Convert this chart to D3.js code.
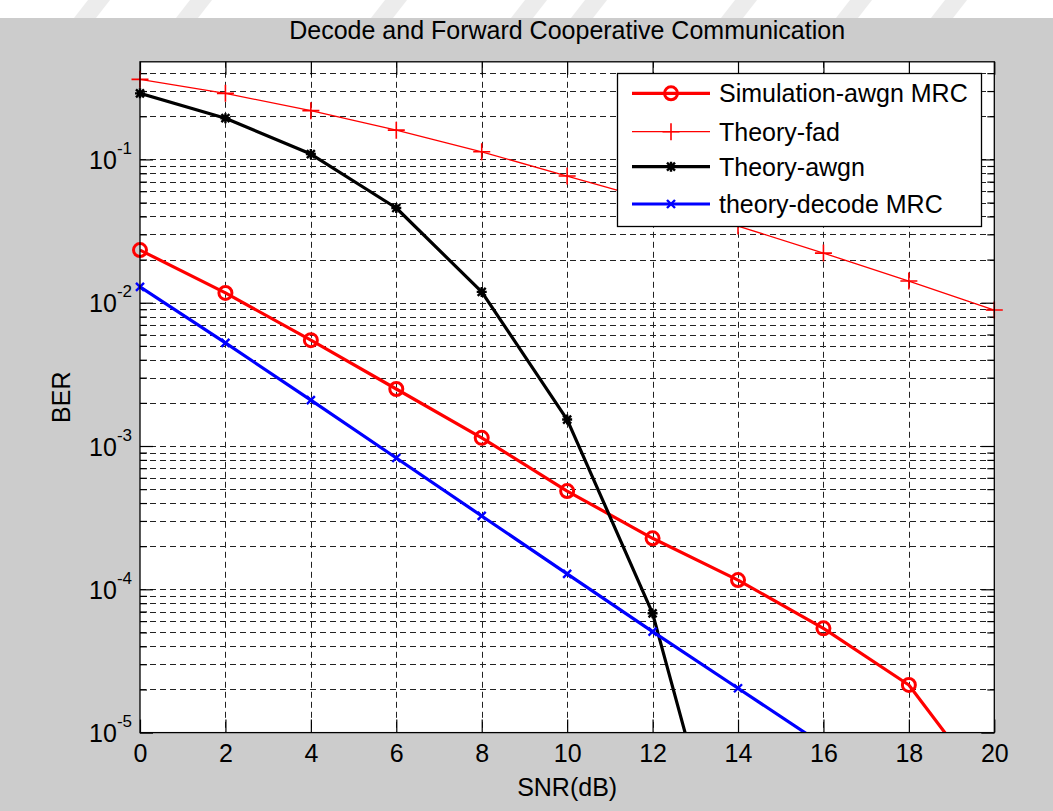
<!DOCTYPE html>
<html><head><meta charset="utf-8">
<script src="https://cdn.jsdelivr.net/npm/d3@7"></script>
<style>body{margin:0;background:#cccccc;overflow:hidden} svg{display:block}</style>
</head><body><script>
// ---- data ----
const snr = [0, 2, 4, 6, 8, 10, 12, 14, 16, 18, 20];
const simAwgnMrc   = [0.0233, 0.0117, 0.00548, 0.0025, 0.00114, 0.000485, 0.000227, 0.000116, 5.34e-5, 2.15e-5, 3.5e-6];
const theoryFad    = [0.362, 0.289, 0.219, 0.160, 0.113, 0.0766, 0.052, 0.0343, 0.0222, 0.01416, 0.00889];
const theoryAwgn   = [0.289, 0.194, 0.109, 0.0458, 0.0119, 0.00153, 6.8e-5, 4.4e-7, null, null, null];
const theoryDecode = [0.0129, 0.00524, 0.00209, 0.000825, 0.000325, 0.000128, 5.06e-5, 2.04e-5, 8.2e-6, null, null];
const xTicks = [0, 2, 4, 6, 8, 10, 12, 14, 16, 18, 20];
const yDecades = [1e-5, 1e-4, 1e-3, 1e-2, 1e-1];
const yExpLabels = ["-5", "-4", "-3", "-2", "-1"];
const titleText = "Decode and Forward Cooperative Communication";
const xLabel = "SNR(dB)";
const yLabel = "BER";
const legendNames = ["Simulation-awgn MRC", "Theory-fad", "Theory-awgn", "theory-decode MRC"];

const W = 1053, H = 811;
const L = 140, R = 994.3, T = 61.8, B = 732.6;
const FONT = "'Liberation Sans', Arial, Helvetica, sans-serif";

const svg = d3.select("body").append("svg").attr("width", W).attr("height", H)
  .style("font-family", FONT);

svg.append("rect").attr("width", W).attr("height", H).attr("fill", "#cccccc");
// top white band with faint diagonal marks (watermark in the reference)
svg.append("rect").attr("width", W).attr("height", 18).attr("fill", "#ffffff");
const marks = [88, 190, 385, 525, 585, 735, 850, 945];
svg.append("g").selectAll("path").data(marks).join("path")
  .attr("d", d => `M${d},0 L${d+22},0 L${d+8},18 L${d-14},18 Z`)
  .attr("fill", "#ececec");

const x = d3.scaleLinear().domain([0, 20]).range([L, R]);
const y = d3.scaleLog().domain([1e-5, 0.48]).range([B, T]);

// plot area
svg.append("rect").attr("x", L).attr("y", T).attr("width", R - L).attr("height", B - T).attr("fill", "#fff");

// minor values
const minor = [];
for (let e = -5; e <= -1; e++) for (let m = 2; m <= 9; m++) { const v = m * Math.pow(10, e); if (v <= 0.48) minor.push(v); }

// grid
const grid = svg.append("g").attr("stroke", "#222").attr("stroke-width", 1).attr("stroke-dasharray", "6,4").attr("fill", "none");
grid.selectAll("line.h").data(yDecades.concat(minor).filter(v => v > 1e-5)).join("line")
  .attr("x1", L).attr("x2", R).attr("y1", d => Math.round(y(d)) + 0.5).attr("y2", d => Math.round(y(d)) + 0.5);
grid.selectAll("line.v").data(xTicks.filter(v => v > 0 && v < 20)).join("line")
  .attr("y1", T).attr("y2", B).attr("x1", d => Math.round(x(d)) + 0.5).attr("x2", d => Math.round(x(d)) + 0.5);

// axes with inward ticks
const axStyle = g => { g.select(".domain").remove(); g.selectAll(".tick line").attr("stroke", "#000").attr("stroke-width", 1.2); };
svg.append("g").attr("transform", `translate(0,${B})`)
  .call(d3.axisBottom(x).tickValues(xTicks).tickSize(-13).tickPadding(12).tickFormat(d3.format("d")))
  .call(axStyle)
  .call(g => g.selectAll("text").attr("font-size", 25).attr("font-family", FONT).attr("fill", "#000"));
svg.append("g").attr("transform", `translate(0,${T})`)
  .call(d3.axisTop(x).tickValues(xTicks).tickSize(-13).tickFormat(""))
  .call(axStyle);
const yl = svg.append("g").attr("transform", `translate(${L},0)`)
  .call(d3.axisLeft(y).tickValues(yDecades).tickSize(-13).tickPadding(8).tickFormat(() => ""))
  .call(axStyle);
yl.selectAll(".tick text").each(function(d, i) {
  const t = d3.select(this).attr("font-family", FONT).attr("fill", "#000").attr("dy", null).attr("y", 9);
  t.append("tspan").attr("font-size", 25).text("10");
  t.append("tspan").attr("font-size", 17).attr("dy", -15).text(yExpLabels[i]);
});
svg.append("g").attr("transform", `translate(${L},0)`)
  .call(d3.axisLeft(y).tickValues(minor).tickSize(-7).tickFormat(""))
  .call(axStyle);
svg.append("g").attr("transform", `translate(${R},0)`)
  .call(d3.axisRight(y).tickValues(yDecades).tickSize(-13).tickFormat(""))
  .call(axStyle);
svg.append("g").attr("transform", `translate(${R},0)`)
  .call(d3.axisRight(y).tickValues(minor).tickSize(-7).tickFormat(""))
  .call(axStyle);

// clip for lines
svg.append("clipPath").attr("id", "clip").append("rect").attr("x", L).attr("y", T).attr("width", R - L).attr("height", B - T);

const series = [
  { name: legendNames[0], vals: simAwgnMrc,   color: "#ff0000", width: 3.2, marker: "o" },
  { name: legendNames[1], vals: theoryFad,    color: "#ff0000", width: 1.3, marker: "+" },
  { name: legendNames[2], vals: theoryAwgn,   color: "#000000", width: 3.2, marker: "*" },
  { name: legendNames[3], vals: theoryDecode, color: "#0000ff", width: 3.2, marker: "x" }
];

function drawMarker(g, type, cx, cy, color) {
  if (type === "o") {
    g.append("circle").attr("cx", cx).attr("cy", cy).attr("r", 6.5).attr("fill", "none").attr("stroke", color).attr("stroke-width", 3);
  } else if (type === "+") {
    g.append("path").attr("d", `M${cx-8.5},${cy}H${cx+8.5}M${cx},${cy-8.5}V${cy+8.5}`).attr("stroke", color).attr("stroke-width", 1.6);
  } else if (type === "*") {
    const s = 4;
    g.append("path").attr("d", `M${cx-s},${cy-s}L${cx+s},${cy+s}M${cx-s},${cy+s}L${cx+s},${cy-s}M${cx-s-1},${cy}H${cx+s+1}M${cx},${cy-s-1}V${cy+s+1}`).attr("stroke", color).attr("stroke-width", 2.4);
  } else if (type === "x") {
    const s = 4;
    g.append("path").attr("d", `M${cx-s},${cy-s}L${cx+s},${cy+s}M${cx-s},${cy+s}L${cx+s},${cy-s}`).attr("stroke", color).attr("stroke-width", 2.4);
  }
}

const plotG = svg.append("g");
series.forEach(s => {
  const pts = snr.map((v, i) => [v, s.vals[i]]);
  const line = d3.line().defined(d => d[1] != null).x(d => x(d[0])).y(d => y(d[1]));
  plotG.append("path").datum(pts).attr("clip-path", "url(#clip)")
    .attr("d", line).attr("fill", "none").attr("stroke", s.color).attr("stroke-width", s.width)
    .attr("stroke-linejoin", "round");
  const mg = plotG.append("g");
  pts.filter(d => d[1] != null && d[1] >= 1e-5 && d[1] <= 0.48)
    .forEach(d => drawMarker(mg, s.marker, x(d[0]), y(d[1]), s.color));
});

// axes box
svg.append("rect").attr("x", L).attr("y", T).attr("width", R - L).attr("height", B - T)
  .attr("fill", "none").attr("stroke", "#000").attr("stroke-width", 1.3);

// legend
const lg = svg.append("g");
lg.append("rect").attr("x", 617.5).attr("y", 73.5).attr("width", 364).attr("height", 153)
  .attr("fill", "#fff").attr("stroke", "#000").attr("stroke-width", 1.3);
const ly = [93.3, 131.7, 166.7, 204];
series.forEach((s, i) => {
  lg.append("line").attr("x1", 632).attr("x2", 710).attr("y1", ly[i]).attr("y2", ly[i])
    .attr("stroke", s.color).attr("stroke-width", s.width);
  drawMarker(lg, s.marker, 671, ly[i], s.color);
  lg.append("text").attr("x", 719).attr("y", ly[i] + 9).attr("font-size", 25).attr("fill", "#000").text(s.name);
});

// title and labels
svg.append("text").attr("x", (L + R) / 2).attr("y", 39).attr("text-anchor", "middle")
  .attr("font-size", 25).attr("fill", "#000").text(titleText);
svg.append("text").attr("x", (L + R) / 2).attr("y", 796).attr("text-anchor", "middle")
  .attr("font-size", 25).attr("fill", "#000").text(xLabel);
svg.append("text").attr("transform", `translate(70,${(T + B) / 2}) rotate(-90)`).attr("text-anchor", "middle")
  .attr("font-size", 25).attr("fill", "#000").text(yLabel);
</script></body></html>
